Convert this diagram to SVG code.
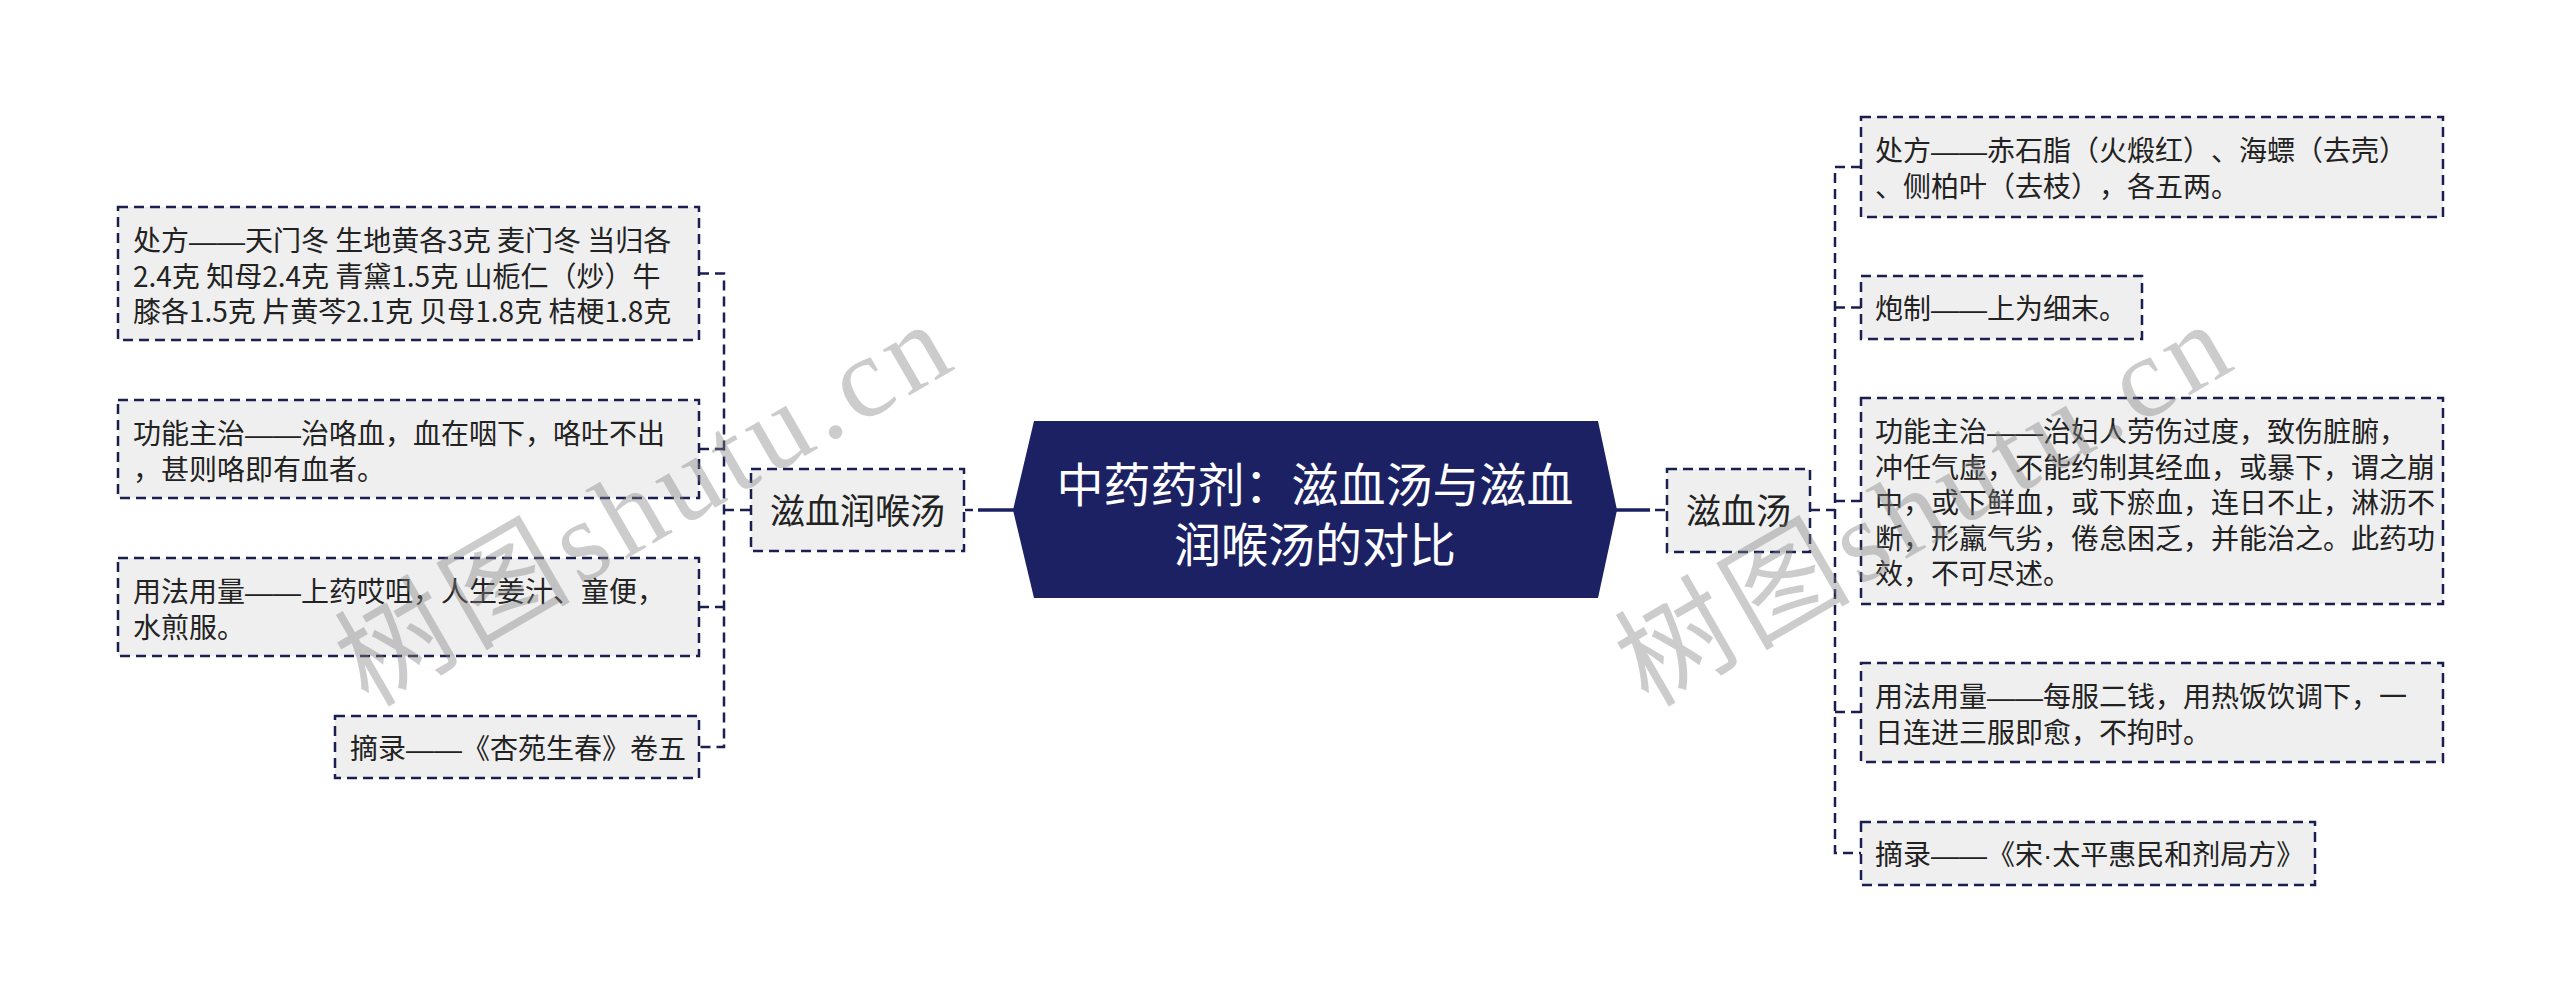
<svg xmlns="http://www.w3.org/2000/svg" width="2560" height="1003" viewBox="0 0 2560 1003">
<style>
.bg{fill:#ffffff}
.box{fill:#efefef;stroke:#1b1f4f;stroke-width:2.5;stroke-dasharray:10 6}
.conn{fill:none;stroke:#1b1f4f;stroke-width:2.5;stroke-dasharray:10 6}
.solid{fill:none;stroke:#1b2060;stroke-width:3.5}
text{text-spacing-trim:space-all}
.t{font-family:"Noto Sans CJK SC","Noto Sans",sans-serif;font-size:28px;fill:#222222}
.t2{font-family:"Noto Sans CJK SC","Noto Sans",sans-serif;font-size:35px;fill:#222222;text-anchor:middle}
.root{fill:#1b2163}
.rt{font-family:"Noto Sans CJK SC","Noto Sans",sans-serif;font-size:47px;fill:#ffffff;text-anchor:middle}
.wm{font-family:"Liberation Serif","Noto Sans CJK SC",serif;font-size:115px;fill:#808080;fill-opacity:0.4}
.dot{font-family:"Liberation Sans",sans-serif}
.dash{font-family:"Liberation Sans",sans-serif}
</style>
<rect class="bg" x="0" y="0" width="2560" height="1003"/>
<g id="connectors">
<path class="conn" d="M699,273.5 H724 V747 H699"/>
<path class="conn" d="M699,449 H724"/>
<path class="conn" d="M699,607 H724"/>
<path class="conn" d="M724,510 H751"/>
<path class="conn" d="M965,510 H973"/>
<path class="solid" d="M978,510 H1015"/>
<path class="solid" d="M1615,510 H1650"/>
<path class="conn" d="M1655,510 H1665"/>
<path class="conn" d="M1810,510 H1835"/>
<path class="conn" d="M1861,167 H1835 V853 H1861"/>
<path class="conn" d="M1835,307.5 H1861"/>
<path class="conn" d="M1835,501 H1861"/>
<path class="conn" d="M1835,712 H1861"/>
</g>
<g id="root">
<polygon class="root" points="1013,510 1034,421 1598,421 1617,510 1598,598 1034,598"/>
<text class="rt" x="1315" y="502">中药药剂：滋血汤与滋血</text>
<text class="rt" x="1315" y="562">润喉汤的对比</text>
</g>
<g id="n-zxrht">
<rect class="box" x="751" y="469" width="213" height="82"/>
<text class="t2" x="857.5" y="524">滋血润喉汤</text>
</g>
<g id="n-zxt">
<rect class="box" x="1667" y="469" width="143" height="83"/>
<text class="t2" x="1738.5" y="524">滋血汤</text>
</g>
<g id="l-chufang">
<rect class="box" x="118" y="207" width="581" height="133"/>
<text class="t" x="133" y="251">处方<tspan class="dash">——</tspan>天门冬 生地黄各3克 麦门冬 当归各</text>
<text class="t" x="133" y="286.5">2.4克 知母2.4克 青黛1.5克 山栀仁（炒）牛</text>
<text class="t" x="133" y="322">膝各1.5克 片黄芩2.1克 贝母1.8克 桔梗1.8克</text>
</g>
<g id="l-gongneng">
<rect class="box" x="118" y="400" width="581" height="98"/>
<text class="t" x="133" y="444">功能主治<tspan class="dash">——</tspan>治咯血，血在咽下，咯吐不出</text>
<text class="t" x="133" y="479.5">，甚则咯即有血者。</text>
</g>
<g id="l-yongfa">
<rect class="box" x="118" y="558" width="581" height="98"/>
<text class="t" x="133" y="602">用法用量<tspan class="dash">——</tspan>上药哎咀，人生姜汁、童便，</text>
<text class="t" x="133" y="637.5">水煎服。</text>
</g>
<g id="l-zhailu">
<rect class="box" x="335" y="716" width="364" height="62"/>
<text class="t" x="350" y="759">摘录<tspan class="dash">——</tspan>《杏苑生春》卷五</text>
</g>
<g id="r-chufang">
<rect class="box" x="1861" y="117" width="582" height="100"/>
<text class="t" x="1875" y="161">处方<tspan class="dash">——</tspan>赤石脂（火煅红）、海螵（去壳）</text>
<text class="t" x="1875" y="196.5">、侧柏叶（去枝），各五两。</text>
</g>
<g id="r-paozhi">
<rect class="box" x="1861" y="276" width="281" height="63"/>
<text class="t" x="1875" y="319">炮制<tspan class="dash">——</tspan>上为细末。</text>
</g>
<g id="r-gongneng">
<rect class="box" x="1861" y="398" width="582" height="206"/>
<text class="t" x="1875" y="442">功能主治<tspan class="dash">——</tspan>治妇人劳伤过度，致伤脏腑，</text>
<text class="t" x="1875" y="477.5">冲任气虚，不能约制其经血，或暴下，谓之崩</text>
<text class="t" x="1875" y="513">中，或下鲜血，或下瘀血，连日不止，淋沥不</text>
<text class="t" x="1875" y="548.5">断，形羸气劣，倦怠困乏，并能治之。此药功</text>
<text class="t" x="1875" y="584">效，不可尽述。</text>
</g>
<g id="r-yongfa">
<rect class="box" x="1861" y="663" width="582" height="99"/>
<text class="t" x="1875" y="707">用法用量<tspan class="dash">——</tspan>每服二钱，用热饭饮调下，一</text>
<text class="t" x="1875" y="742.5">日连进三服即愈，不拘时。</text>
</g>
<g id="r-zhailu">
<rect class="box" x="1861" y="822" width="454" height="63"/>
<text class="t" x="1875" y="865">摘录<tspan class="dash">——</tspan>《宋<tspan class="dot">·</tspan>太平惠民和剂局方》</text>
</g>
<g id="watermark">
<text class="wm" transform="translate(368,708) rotate(-30)" textLength="680" lengthAdjust="spacing">树图shutu.cn</text>
<text class="wm" transform="translate(1648,708) rotate(-30)" textLength="680" lengthAdjust="spacing">树图shutu.cn</text>
</g>
</svg>
